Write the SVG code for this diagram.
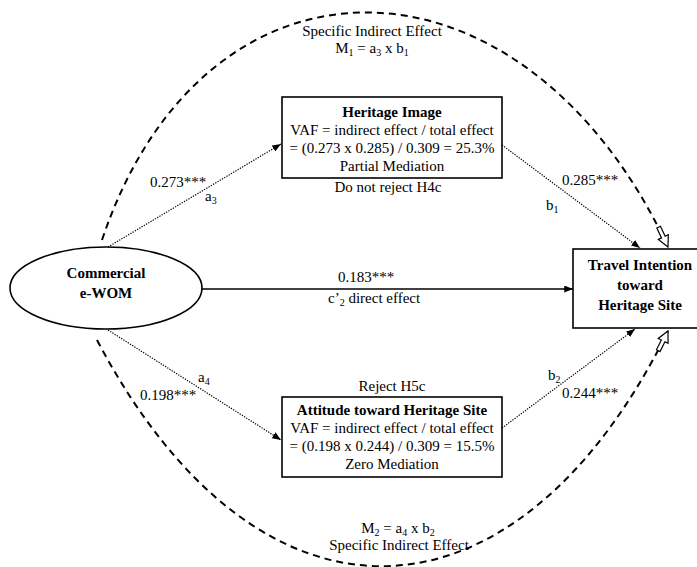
<svg xmlns="http://www.w3.org/2000/svg" width="697" height="567" viewBox="0 0 697 567" font-family="'Liberation Serif', 'Times New Roman', 'DejaVu Serif', serif">
<style>
text{font-family:"Liberation Serif","Times New Roman","DejaVu Serif",serif;font-size:15px;fill:#000}
.b{font-weight:bold}
.m{text-anchor:middle}
.box{fill:#fff;stroke:#000;stroke-width:1.6}
.dash{fill:none;stroke:#000;stroke-width:2;stroke-dasharray:7 5}
.dot{fill:none;stroke:#000;stroke-width:1.2;stroke-dasharray:1.3 1.3}
.solid{fill:none;stroke:#000;stroke-width:1.5}
</style>
<defs>
<marker id="fa" viewBox="0 0 10 8" refX="10" refY="4" markerWidth="9" markerHeight="7" markerUnits="userSpaceOnUse" orient="auto">
<path d="M0,0 L10,4 L0,8 Z" fill="#000"/>
</marker>
<marker id="ha" viewBox="0 0 24 14" refX="23" refY="7" markerWidth="24" markerHeight="14" markerUnits="userSpaceOnUse" orient="auto">
<path d="M1,5 L12,5 L12,1.5 L23,7 L12,12.5 L12,9 L1,9 Z" fill="#fff" stroke="#000" stroke-width="1.2"/>
</marker>
</defs>
<g id="connectors">
<path class="dash" d="M102,240 C205,-67 523,-62 668,247" marker-end="url(#ha)"/>
<path class="dash" d="M97,340 C259,648 516,638 668,331" marker-end="url(#ha)"/>
<line class="solid" x1="202" y1="289" x2="573" y2="289" marker-end="url(#fa)"/>
<line class="dot" x1="108" y1="247" x2="281" y2="144" marker-end="url(#fa)"/>
<line class="dot" x1="502" y1="145" x2="640" y2="248" marker-end="url(#fa)"/>
<line class="dot" x1="108" y1="330" x2="281" y2="440" marker-end="url(#fa)"/>
<line class="dot" x1="502" y1="428" x2="635" y2="329" marker-end="url(#fa)"/>
</g>
<g id="labels">
<text class="m" x="372" y="36">Specific Indirect Effect</text>
<text class="m" x="372" y="53">M<tspan font-size="10" dy="3">1</tspan><tspan dy="-3"> = a</tspan><tspan font-size="10" dy="3">3</tspan><tspan dy="-3"> x b</tspan><tspan font-size="10" dy="3">1</tspan></text>
<text class="m" x="388" y="192">Do not reject H4c</text>
<text x="150" y="187">0.273***</text>
<text x="205" y="201">a<tspan font-size="10" dy="3">3</tspan></text>
<text x="562" y="185">0.285***</text>
<text x="546" y="210">b<tspan font-size="10" dy="3">1</tspan></text>
<text x="338" y="282">0.183***</text>
<text x="328" y="303">c’<tspan font-size="10" dy="3">2</tspan><tspan dy="-3"> direct effect</tspan></text>
<text x="198" y="382">a<tspan font-size="10" dy="3">4</tspan></text>
<text x="140" y="400">0.198***</text>
<text class="m" x="392" y="391">Reject H5c</text>
<text x="548" y="380">b<tspan font-size="10" dy="3">2</tspan></text>
<text x="562" y="398">0.244***</text>
<text class="m" x="398" y="533">M<tspan font-size="10" dy="3">2</tspan><tspan dy="-3"> = a</tspan><tspan font-size="10" dy="3">4</tspan><tspan dy="-3"> x b</tspan><tspan font-size="10" dy="3">2</tspan></text>
<text class="m" x="399" y="550">Specific Indirect Effect</text>
</g>
<g id="commercial-ewom">
<ellipse class="box" cx="106" cy="288" rx="96" ry="41"/>
<text class="m b" x="106" y="278">Commercial</text>
<text class="m b" x="106" y="298">e-WOM</text>
</g>
<g id="heritage-image">
<rect class="box" x="282" y="97" width="220" height="81"/>
<text class="m b" x="392" y="117">Heritage Image</text>
<text class="m" x="392" y="135">VAF = indirect effect / total effect</text>
<text class="m" x="392" y="153">= (0.273 x 0.285) / 0.309 = 25.3%</text>
<text class="m" x="392" y="171">Partial Mediation</text>
</g>
<g id="attitude">
<rect class="box" x="282" y="397" width="220" height="80"/>
<text class="m b" x="392" y="415">Attitude toward Heritage Site</text>
<text class="m" x="392" y="433">VAF = indirect effect / total effect</text>
<text class="m" x="392" y="451">= (0.198 x 0.244) / 0.309 = 15.5%</text>
<text class="m" x="392" y="469">Zero Mediation</text>
</g>
<g id="travel-intention">
<rect class="box" x="573" y="249" width="132" height="79"/>
<text class="m b" x="640" y="270">Travel Intention</text>
<text class="m b" x="640" y="290">toward</text>
<text class="m b" x="640" y="310">Heritage Site</text>
</g>
</svg>
